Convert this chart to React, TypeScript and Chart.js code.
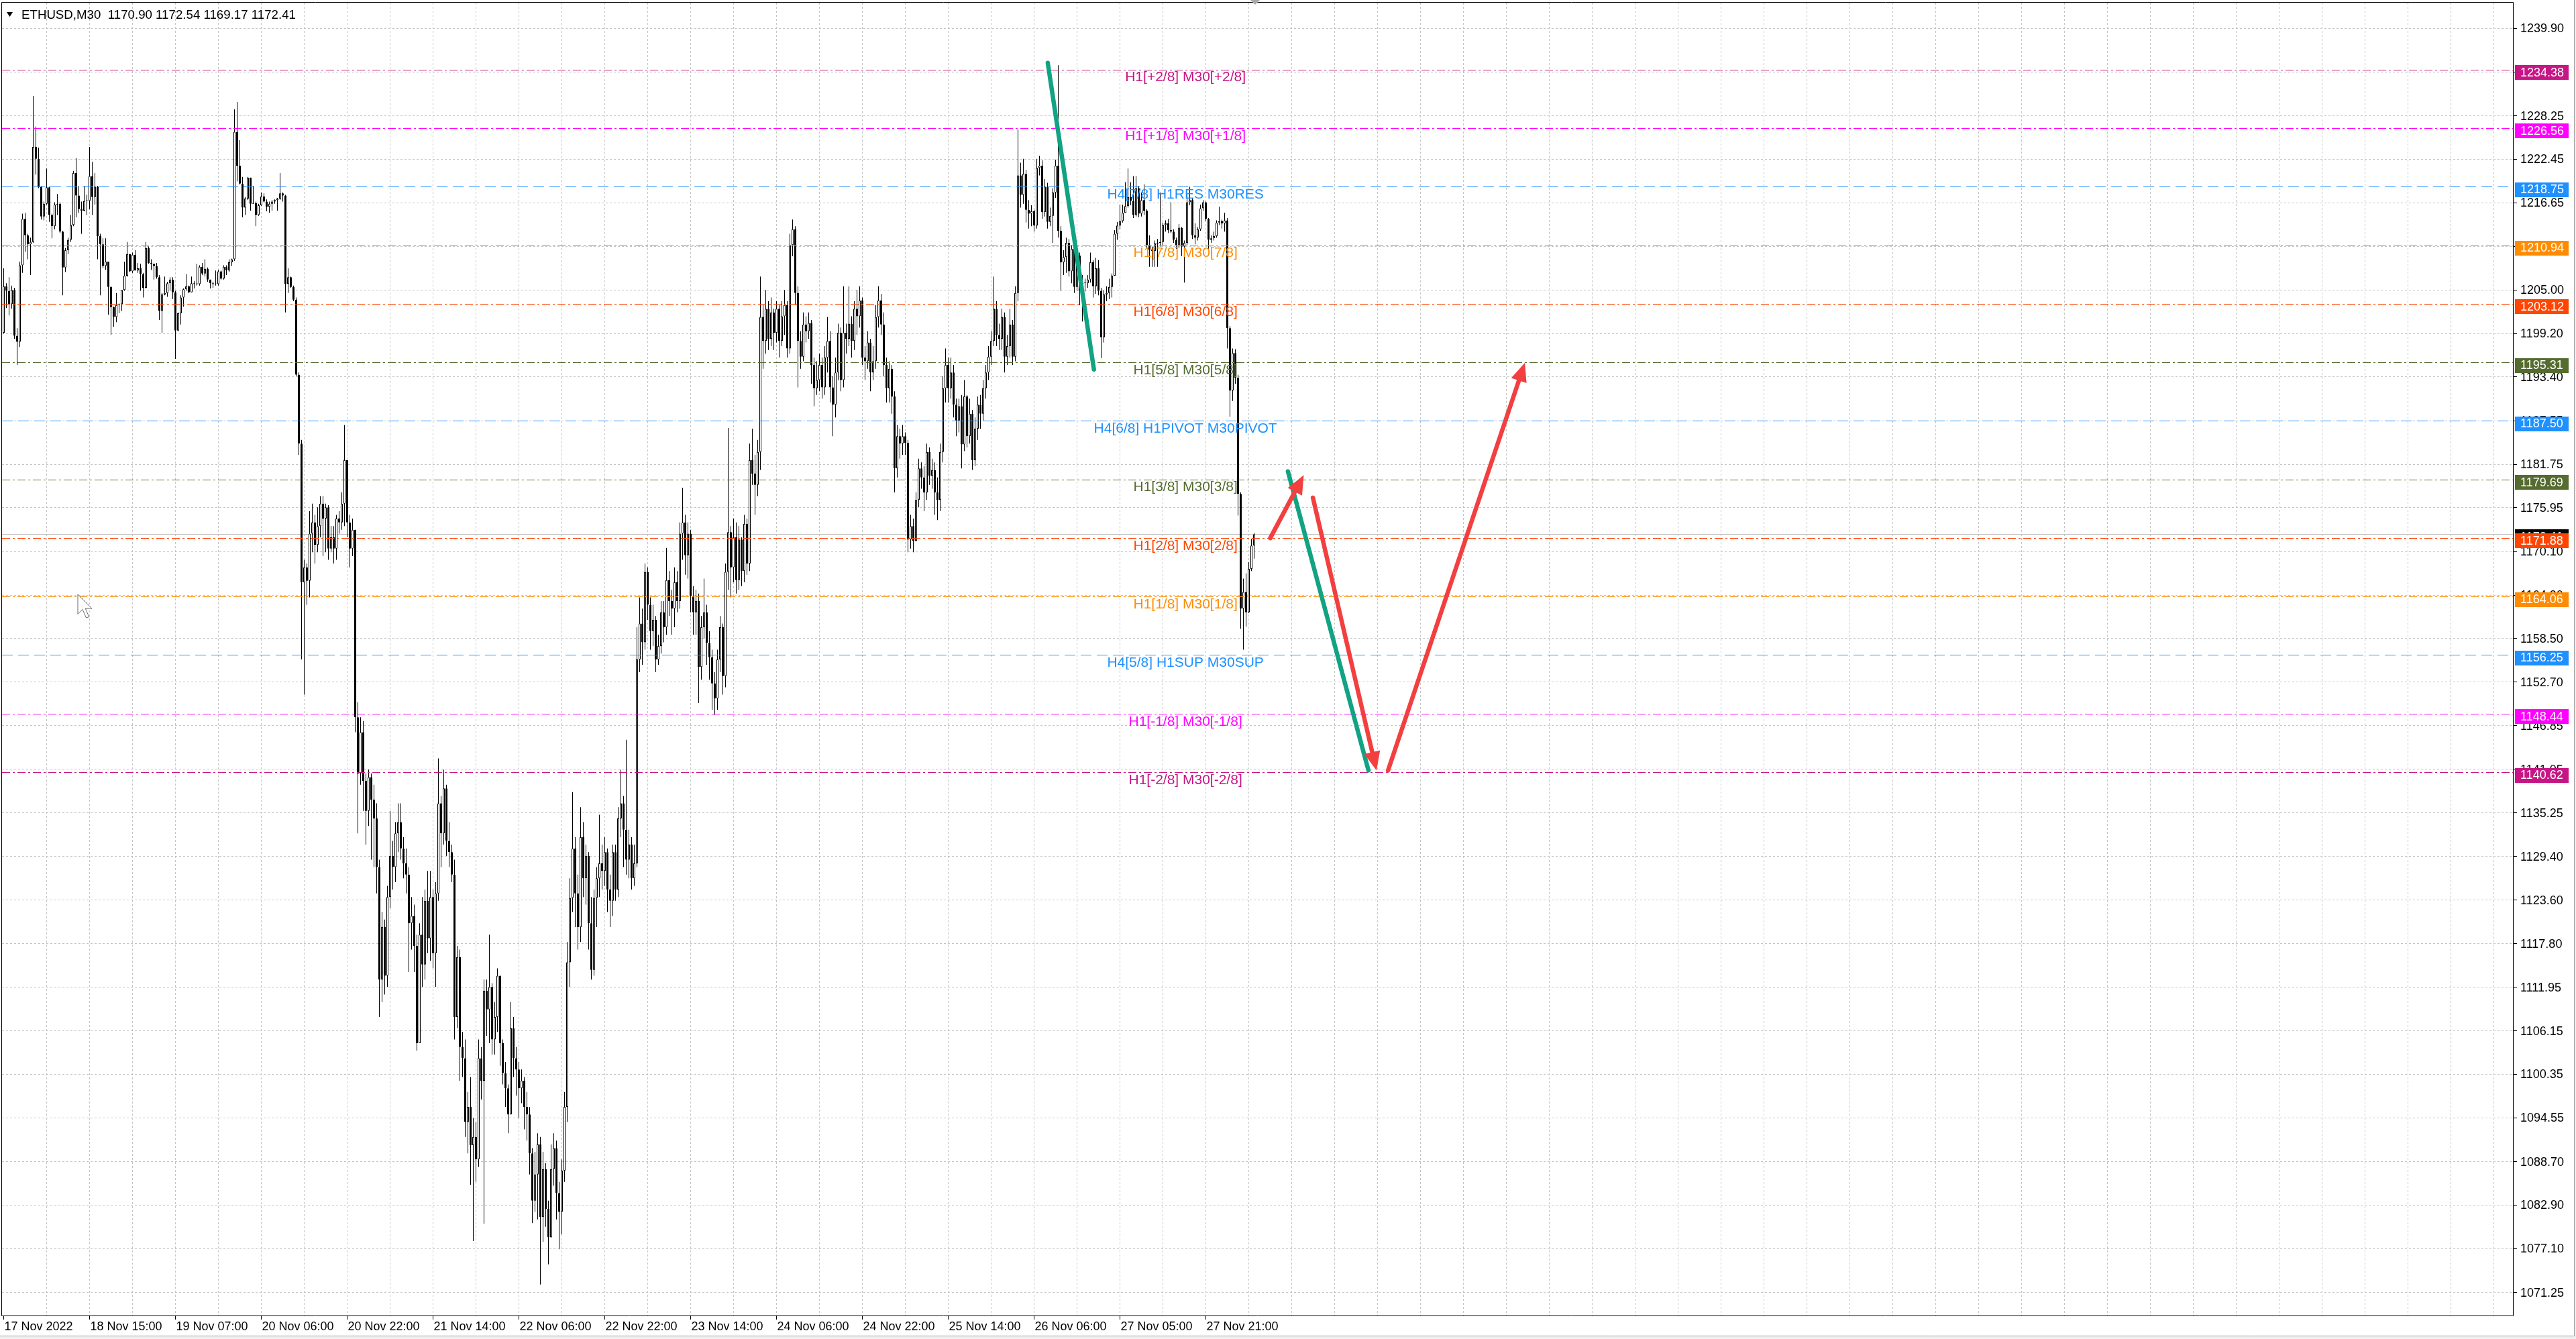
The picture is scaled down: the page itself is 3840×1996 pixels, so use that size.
import React, { useEffect, useRef } from "react";
import { Chart, registerables } from "chart.js";

Chart.register(...registerables);

const W = 3840;
const H = 1996;
const FONT = "'Liberation Sans', Arial, sans-serif";

// ---------- data ----------
const SYMBOL = "ETHUSD,M30";
const FIRST_OPEN = 1199.3;

const closes = [
  1205.5, 1204.9, 1203.1, 1205.0, 1198.9, 1198.1, 1208.3, 1214.5, 1212.3, 1211.1,
  1211.4, 1224.1, 1222.5, 1218.8, 1214.8, 1216.5, 1218.7, 1215.0, 1213.5, 1216.4,
  1216.5, 1212.8, 1208.0, 1210.3, 1211.7, 1213.7, 1220.6, 1217.6, 1215.8, 1215.6,
  1216.9, 1216.9, 1220.2, 1217.4, 1218.8, 1212.2, 1211.1, 1208.2, 1208.8, 1205.4,
  1202.7, 1201.4, 1203.0, 1203.1, 1205.0, 1206.9, 1209.8, 1207.5, 1209.7, 1207.6,
  1207.9, 1207.1, 1205.3, 1210.6, 1208.6, 1208.5, 1208.2, 1206.7, 1202.2, 1204.4,
  1204.6, 1205.9, 1206.4, 1204.7, 1199.6, 1201.9, 1204.0, 1205.1, 1205.5, 1204.7,
  1205.9, 1205.8, 1205.8, 1208.1, 1207.2, 1207.8, 1206.4, 1205.9, 1205.8, 1205.8,
  1207.5, 1206.5, 1208.1, 1207.6, 1208.7, 1209.1, 1226.1, 1221.6, 1219.2, 1216.0,
  1217.2, 1220.0, 1216.5, 1216.6, 1215.0, 1216.3, 1217.5, 1216.8, 1216.1, 1216.5,
  1216.8, 1217.0, 1217.2, 1217.9, 1217.6, 1205.8, 1206.7, 1205.4, 1203.7, 1193.7,
  1184.5, 1166.0, 1168.0, 1166.2, 1172.5, 1174.0, 1171.0, 1173.5, 1176.5, 1174.5,
  1176.0, 1170.5, 1172.0, 1170.5, 1174.5, 1174.0, 1176.5, 1182.3, 1174.0, 1170.5,
  1173.0, 1148.0, 1140.5, 1146.0, 1139.5, 1135.5, 1140.0, 1137.0, 1134.5, 1128.0,
  1113.0, 1120.0, 1113.5, 1124.0, 1129.5, 1128.0, 1132.5, 1134.0, 1130.5, 1128.5,
  1127.0, 1120.5, 1121.5, 1117.5, 1104.5, 1119.0, 1115.0, 1123.5, 1118.5, 1124.0,
  1116.5, 1124.5, 1136.5, 1132.5, 1138.5, 1131.5, 1130.0, 1127.0, 1108.0, 1116.0,
  1104.0, 1102.5, 1094.0, 1096.0, 1090.9, 1092.0, 1089.0, 1102.5, 1099.5, 1111.5,
  1109.0, 1112.0, 1105.0, 1108.0, 1113.5, 1104.5, 1100.5, 1098.5, 1095.0, 1106.5,
  1102.5, 1101.0, 1098.5, 1099.5, 1096.0, 1095.0, 1089.8, 1083.5, 1087.0, 1091.0,
  1081.3, 1087.7, 1082.4, 1078.6, 1087.7, 1090.5, 1084.5, 1082.0, 1087.5, 1096.0,
  1115.3, 1123.9, 1130.5, 1124.5, 1120.0, 1132.0, 1126.5, 1129.5, 1120.5, 1114.3,
  1123.9, 1126.5, 1128.5, 1127.5, 1130.0, 1125.0, 1123.5, 1130.0, 1125.0, 1134.5,
  1136.5, 1133.0, 1129.0, 1131.0, 1126.5, 1128.5, 1155.7, 1160.5, 1158.0, 1167.4,
  1163.0, 1159.5, 1161.0, 1155.7, 1157.5, 1162.0, 1160.0, 1166.3, 1163.5, 1162.5,
  1166.0, 1163.5, 1172.5, 1174.0, 1169.6, 1172.5, 1164.2, 1162.0, 1163.5, 1154.7,
  1160.0, 1162.0, 1157.9, 1156.0, 1152.5, 1150.5, 1155.7, 1160.0, 1153.5, 1167.4,
  1172.7, 1168.0, 1172.0, 1166.3, 1171.7, 1167.5, 1173.8, 1168.5, 1182.3, 1180.5,
  1179.0, 1183.4, 1201.4, 1198.2, 1202.5, 1198.5, 1202.0, 1199.3, 1202.5, 1198.2,
  1201.5, 1203.0, 1197.2, 1211.0, 1213.1, 1204.6, 1198.2, 1196.1, 1200.4, 1199.5,
  1200.6, 1195.0, 1191.9, 1193.0, 1195.0, 1192.0, 1196.0, 1198.2, 1192.0, 1189.7,
  1194.0, 1199.3, 1193.0, 1199.3, 1198.5, 1200.5, 1198.2, 1202.5, 1201.5, 1203.6,
  1196.0, 1195.5, 1198.0, 1194.0, 1195.5, 1201.4, 1203.6, 1200.4, 1195.0, 1191.9,
  1194.5, 1190.8, 1181.2, 1185.5, 1184.5, 1185.5, 1184.6, 1171.7, 1173.5, 1171.5,
  1177.0, 1181.2, 1180.0, 1178.0, 1183.4, 1180.2, 1181.0, 1178.0, 1177.0, 1183.4,
  1191.9, 1195.0, 1191.9, 1194.0, 1189.7, 1187.6, 1189.5, 1184.4, 1190.8, 1185.5,
  1188.5, 1182.3, 1186.5, 1189.7, 1188.5, 1191.9, 1194.0, 1196.1, 1198.2, 1202.5,
  1199.0, 1198.5, 1201.4, 1196.1, 1197.5, 1200.4, 1196.1, 1204.6, 1220.3, 1217.7,
  1220.5, 1215.7, 1215.2, 1215.5, 1213.6, 1221.3, 1221.6, 1215.4, 1218.8, 1214.1,
  1214.9, 1218.0, 1221.6, 1212.9, 1208.7, 1209.4, 1211.3, 1207.5, 1210.5, 1205.4,
  1209.6, 1204.9, 1206.0, 1205.9, 1206.4, 1208.7, 1205.5, 1207.9, 1204.9, 1198.7,
  1204.4, 1204.6, 1205.4, 1206.9, 1212.5, 1213.6, 1214.2, 1215.3, 1216.2, 1217.4,
  1216.9, 1215.0, 1218.6, 1215.2, 1217.0, 1215.6, 1211.0, 1210.4, 1210.2, 1211.2,
  1211.3, 1211.4, 1213.7, 1213.9, 1213.0, 1212.8, 1211.7, 1210.9, 1213.3, 1210.8,
  1211.3, 1216.7, 1217.0, 1212.3, 1212.0, 1213.1, 1215.9, 1216.7, 1214.5, 1211.7,
  1211.9, 1212.2, 1214.0, 1214.2, 1213.9, 1214.3, 1199.9, 1191.6, 1196.6, 1193.3,
  1177.8, 1162.5, 1164.7, 1162.0, 1167.8, 1170.9, 1172.41,
];

const highs = [
  1207.9, 1205.9, 1206.7, 1205.6, 1205.3, 1199.9, 1208.8, 1215.2, 1215.3, 1212.5,
  1212.0, 1230.9, 1226.8, 1224.0, 1218.9, 1216.8, 1221.2, 1218.8, 1215.2, 1216.7,
  1217.8, 1216.7, 1212.9, 1210.6, 1212.0, 1215.0, 1220.9, 1222.6, 1218.9, 1216.8,
  1218.9, 1217.7, 1224.1, 1222.1, 1220.6, 1218.9, 1212.5, 1211.9, 1211.9, 1208.8,
  1205.5, 1202.8, 1204.6, 1203.2, 1205.0, 1208.8, 1211.4, 1209.8, 1210.0, 1210.3,
  1208.6, 1208.5, 1207.3, 1211.4, 1210.8, 1209.1, 1208.5, 1208.6, 1207.0, 1204.6,
  1206.8, 1206.1, 1206.7, 1206.7, 1204.9, 1202.0, 1204.3, 1205.2, 1207.1, 1205.6,
  1206.8, 1206.2, 1208.5, 1208.3, 1208.6, 1209.1, 1208.0, 1206.4, 1206.1, 1207.6,
  1207.7, 1207.6, 1208.3, 1208.3, 1209.1, 1209.2, 1229.1, 1230.1, 1225.0, 1220.1,
  1217.4, 1220.1, 1217.4, 1218.9, 1216.8, 1216.5, 1218.0, 1217.9, 1217.1, 1216.8,
  1217.0, 1217.1, 1217.3, 1220.6, 1218.0, 1217.7, 1207.9, 1206.8, 1205.6, 1204.0,
  1194.0, 1185.0, 1169.0, 1168.5, 1175.5, 1176.5, 1175.0, 1176.0, 1177.5, 1177.5,
  1176.5, 1176.3, 1173.5, 1173.5, 1175.0, 1175.5, 1178.0, 1187.0, 1181.0, 1175.0,
  1174.5, 1173.0, 1150.0, 1148.0, 1147.5, 1140.5, 1141.0, 1140.5, 1139.0, 1136.5,
  1129.0, 1122.0, 1121.0, 1125.5, 1135.5, 1131.5, 1134.0, 1136.5, 1136.5, 1132.0,
  1130.5, 1128.0, 1124.0, 1123.0, 1119.0, 1120.5, 1124.0, 1125.0, 1127.5, 1127.5,
  1125.0, 1126.0, 1142.5, 1137.5, 1141.0, 1139.0, 1134.0, 1131.0, 1129.0, 1117.5,
  1117.0, 1106.0, 1105.0, 1098.0, 1100.0, 1094.5, 1094.0, 1105.0, 1104.0, 1113.0,
  1113.0, 1119.0, 1112.5, 1110.0, 1114.5, 1113.0, 1105.0, 1102.0, 1099.0, 1110.0,
  1108.0, 1104.0, 1102.0, 1101.0, 1100.0, 1098.0, 1096.0, 1090.5, 1090.0, 1092.5,
  1092.0, 1090.0, 1088.5, 1083.5, 1091.0, 1092.5, 1091.5, 1086.0, 1089.0, 1098.0,
  1118.0, 1126.5, 1138.0, 1132.0, 1127.0, 1136.0, 1134.0, 1131.0, 1130.0, 1124.0,
  1125.0, 1128.0, 1135.0, 1131.0, 1132.0, 1130.5, 1127.0, 1131.0, 1131.0, 1136.0,
  1141.0, 1137.5, 1145.0, 1133.0, 1132.0, 1131.0, 1160.0, 1164.0, 1162.5, 1168.5,
  1168.0, 1164.0, 1163.0, 1161.5, 1159.0, 1163.5, 1163.5, 1170.6, 1167.5, 1165.0,
  1168.0, 1167.5, 1174.0, 1178.6, 1175.0, 1174.0, 1173.0, 1165.5, 1165.0, 1164.5,
  1161.5, 1166.5, 1163.0, 1159.5, 1157.0, 1154.0, 1157.0, 1161.5, 1160.5, 1168.5,
  1186.6, 1173.5, 1174.5, 1174.0, 1173.5, 1172.0, 1175.0, 1174.5, 1184.5, 1186.5,
  1183.0, 1185.0, 1206.8, 1203.0, 1205.0, 1203.5, 1204.0, 1202.5, 1203.5, 1203.0,
  1203.5, 1205.0, 1203.5, 1212.5, 1214.4, 1213.5, 1205.5, 1199.5, 1202.0, 1201.5,
  1202.0, 1201.0, 1196.0, 1195.5, 1196.5, 1196.0, 1197.5, 1201.4, 1199.5, 1193.5,
  1196.0, 1200.5, 1200.0, 1205.5, 1200.5, 1205.5, 1201.5, 1203.5, 1205.0, 1205.5,
  1204.0, 1197.5, 1199.5, 1198.5, 1197.5, 1203.0, 1205.5, 1204.5, 1202.0, 1196.0,
  1195.5, 1195.0, 1191.5, 1187.0, 1186.5, 1187.0, 1186.0, 1185.0, 1175.0, 1174.5,
  1178.0, 1182.5, 1182.0, 1181.5, 1184.5, 1184.0, 1182.5, 1182.0, 1180.0, 1184.5,
  1193.5, 1197.2, 1196.0, 1196.0, 1195.0, 1190.5, 1190.5, 1191.0, 1193.0, 1191.0,
  1190.5, 1189.0, 1188.0, 1190.8, 1191.0, 1193.0, 1195.0, 1197.5, 1199.5, 1206.8,
  1203.5, 1200.5, 1202.5, 1202.0, 1199.0, 1202.5, 1201.0, 1205.5, 1226.4, 1222.0,
  1222.5, 1221.0, 1217.0, 1216.3, 1215.7, 1222.5, 1222.9, 1222.3, 1219.8, 1219.3,
  1216.0, 1218.6, 1222.4, 1235.0, 1213.5, 1210.3, 1212.0, 1211.8, 1211.0, 1210.7,
  1211.0, 1210.0, 1207.0, 1206.5, 1207.0, 1210.0, 1209.0, 1209.3, 1209.0, 1205.3,
  1205.0, 1205.5, 1206.5, 1207.2, 1213.0, 1214.1, 1216.4, 1216.4, 1219.4, 1221.2,
  1219.4, 1220.2, 1220.2, 1218.9, 1218.0, 1219.1, 1215.8, 1212.3, 1210.8, 1211.6,
  1211.8, 1218.0, 1214.0, 1214.3, 1214.5, 1216.7, 1213.1, 1212.0, 1213.8, 1213.4,
  1211.6, 1217.7, 1218.8, 1217.2, 1213.9, 1213.4, 1216.4, 1217.0, 1216.8, 1214.6,
  1212.3, 1212.8, 1214.3, 1216.1, 1214.4, 1215.3, 1214.6, 1200.2, 1197.2, 1197.1,
  1193.7, 1178.0, 1166.5, 1167.2, 1168.7, 1171.8, 1172.54,
];

const lows = [
  1199.2, 1202.6, 1201.6, 1202.5, 1198.5, 1195.0, 1197.4, 1207.3, 1210.1, 1209.1,
  1207.0, 1211.3, 1220.4, 1218.6, 1214.4, 1214.3, 1216.4, 1214.1, 1211.9, 1213.1,
  1215.0, 1212.6, 1204.3, 1207.4, 1209.8, 1211.4, 1213.5, 1214.7, 1215.3, 1212.5,
  1215.5, 1215.0, 1215.8, 1215.0, 1216.4, 1209.1, 1204.3, 1207.9, 1207.7, 1201.7,
  1199.0, 1200.1, 1200.7, 1201.9, 1202.2, 1204.9, 1206.8, 1207.4, 1207.3, 1207.6,
  1207.3, 1204.9, 1204.0, 1205.2, 1208.5, 1207.7, 1206.4, 1206.5, 1201.0, 1199.3,
  1204.3, 1204.1, 1204.9, 1203.8, 1195.8, 1199.5, 1200.4, 1202.8, 1204.9, 1204.6,
  1204.9, 1205.2, 1205.6, 1205.6, 1207.0, 1206.8, 1206.1, 1205.2, 1205.3, 1205.6,
  1205.6, 1206.4, 1206.4, 1207.0, 1207.4, 1208.2, 1208.9, 1219.5, 1219.1, 1214.7,
  1215.0, 1217.0, 1215.6, 1216.5, 1213.5, 1214.9, 1216.2, 1216.7, 1215.5, 1215.3,
  1215.6, 1216.5, 1215.6, 1217.0, 1216.8, 1202.0, 1204.6, 1205.3, 1203.5, 1193.5,
  1183.0, 1155.7, 1151.0, 1163.0, 1164.0, 1170.0, 1168.5, 1170.0, 1172.0, 1169.5,
  1170.0, 1169.0, 1170.0, 1168.5, 1169.0, 1172.5, 1173.0, 1173.5, 1172.0, 1168.0,
  1169.5, 1146.0, 1132.5, 1139.0, 1135.5, 1131.0, 1133.5, 1129.0, 1128.0, 1124.5,
  1108.0, 1110.0, 1111.0, 1112.0, 1122.5, 1125.0, 1126.0, 1130.0, 1129.0, 1126.5,
  1124.5, 1114.0, 1117.0, 1114.0, 1103.5, 1104.5, 1112.0, 1113.0, 1116.5, 1115.5,
  1114.5, 1112.0, 1123.5, 1128.0, 1131.0, 1129.5, 1128.0, 1126.0, 1105.0, 1106.5,
  1099.5, 1100.0, 1092.0, 1089.8, 1085.6, 1078.1, 1086.0, 1088.0, 1097.0, 1080.4,
  1105.5, 1104.5, 1103.0, 1103.0, 1106.0, 1101.5, 1099.0, 1096.0, 1092.5, 1095.0,
  1100.0, 1097.5, 1094.5, 1096.5, 1093.0, 1091.5, 1087.0, 1080.5, 1082.0, 1081.0,
  1072.3, 1078.0, 1080.0, 1075.0, 1079.0, 1085.5, 1081.0, 1077.0, 1079.0, 1086.0,
  1094.0, 1112.0, 1122.0, 1120.0, 1117.0, 1118.0, 1124.0, 1123.0, 1117.0, 1113.0,
  1113.5, 1120.0, 1124.0, 1125.0, 1125.5, 1122.0, 1120.0, 1121.5, 1123.5, 1124.0,
  1132.0, 1128.0, 1127.0, 1126.5, 1125.0, 1125.5, 1128.0, 1154.0, 1155.0, 1157.0,
  1161.0, 1157.0, 1157.5, 1154.0, 1155.0, 1156.5, 1158.0, 1159.0, 1161.5, 1159.0,
  1160.0, 1162.0, 1162.5, 1169.0, 1167.0, 1166.5, 1162.0, 1159.0, 1159.0, 1149.9,
  1153.0, 1158.5, 1155.0, 1153.0, 1149.0, 1148.3, 1149.0, 1154.0, 1151.0, 1152.0,
  1165.0, 1164.0, 1166.0, 1164.5, 1165.0, 1165.5, 1166.0, 1167.0, 1167.5, 1179.0,
  1175.0, 1177.5, 1181.0, 1194.5, 1196.5, 1197.0, 1197.5, 1197.0, 1198.0, 1196.0,
  1197.5, 1199.0, 1196.0, 1196.5, 1209.5, 1203.0, 1192.0, 1194.5, 1195.5, 1198.0,
  1198.5, 1192.5, 1189.5, 1191.0, 1191.5, 1190.5, 1191.0, 1194.0, 1190.0, 1185.5,
  1188.0, 1193.0, 1191.5, 1192.0, 1196.5, 1197.5, 1196.0, 1197.0, 1199.0, 1200.0,
  1195.0, 1193.0, 1194.5, 1191.5, 1193.0, 1194.5, 1200.0, 1199.0, 1193.5, 1190.0,
  1190.0, 1188.5, 1178.0, 1180.0, 1182.5, 1183.0, 1183.0, 1170.0, 1170.5, 1170.0,
  1171.5, 1176.0, 1178.5, 1175.5, 1177.0, 1179.0, 1178.5, 1175.0, 1174.3, 1175.5,
  1182.0, 1190.0, 1190.0, 1190.5, 1188.0, 1185.5, 1186.0, 1181.2, 1183.5, 1184.0,
  1184.5, 1181.0, 1181.5, 1185.0, 1186.5, 1187.5, 1190.5, 1193.0, 1195.0, 1197.5,
  1197.5, 1197.0, 1197.0, 1194.0, 1195.0, 1196.0, 1195.0, 1195.5, 1203.5, 1216.0,
  1216.5, 1214.0, 1213.2, 1213.5, 1212.8, 1213.2, 1220.3, 1214.5, 1214.8, 1213.2,
  1213.5, 1211.3, 1217.3, 1212.0, 1204.9, 1207.0, 1207.3, 1206.8, 1205.9, 1204.6,
  1204.9, 1203.0, 1200.8, 1204.8, 1205.3, 1206.0, 1204.0, 1204.5, 1204.3, 1195.9,
  1198.0, 1203.5, 1203.8, 1204.0, 1209.5, 1211.7, 1213.1, 1214.0, 1215.3, 1216.0,
  1216.3, 1214.6, 1214.8, 1214.7, 1214.8, 1215.0, 1210.6, 1208.1, 1208.1, 1208.1,
  1208.1, 1210.8, 1210.9, 1212.8, 1212.6, 1212.6, 1211.3, 1210.5, 1210.6, 1209.5,
  1206.0, 1211.0, 1216.3, 1211.8, 1211.1, 1211.6, 1212.9, 1215.6, 1214.2, 1210.4,
  1211.3, 1211.6, 1212.0, 1213.7, 1213.2, 1212.8, 1197.2, 1188.1, 1190.2, 1192.5,
  1174.9, 1159.8, 1157.0, 1160.1, 1161.9, 1167.5, 1169.17,
];

const timeLabels = [
  "17 Nov 2022", "18 Nov 15:00", "19 Nov 07:00", "20 Nov 06:00", "20 Nov 22:00",
  "21 Nov 14:00", "22 Nov 06:00", "22 Nov 22:00", "23 Nov 14:00", "24 Nov 06:00",
  "24 Nov 22:00", "25 Nov 14:00", "26 Nov 06:00", "27 Nov 05:00", "27 Nov 21:00",
];
const LABEL_EVERY = 32;
const GRID_EVERY = 16;

const priceTicks = [
  1239.9, 1234.1, 1228.25, 1222.45, 1216.65, 1210.8, 1205.0, 1199.2, 1193.4, 1187.55,
  1181.75, 1175.95, 1170.1, 1164.3, 1158.5, 1152.7, 1146.85, 1141.05, 1135.25, 1129.4,
  1123.6, 1117.8, 1111.95, 1106.15, 1100.35, 1094.55, 1088.7, 1082.9, 1077.1, 1071.25,
];

const levelPrices = [
  1234.38, 1226.56, 1218.75, 1210.94, 1203.12, 1195.31, 1187.5,
  1179.69, 1171.88, 1164.06, 1156.25, 1148.44, 1140.62,
];
const levelTexts = [
  "H1[+2/8] M30[+2/8]", "H1[+1/8] M30[+1/8]", "H4[7/8] H1RES M30RES",
  "H1[7/8] M30[7/8]", "H1[6/8] M30[6/8]", "H1[5/8] M30[5/8]",
  "H4[6/8] H1PIVOT M30PIVOT", "H1[3/8] M30[3/8]", "H1[2/8] M30[2/8]",
  "H1[1/8] M30[1/8]", "H4[5/8] H1SUP M30SUP", "H1[-1/8] M30[-1/8]", "H1[-2/8] M30[-2/8]",
];
const levelColors = [
  "#C71585", "#FF00FF", "#1E90FF", "#FF8C00", "#FF4500", "#556B2F", "#1E90FF",
  "#556B2F", "#FF4500", "#FF8C00", "#1E90FF", "#FF00FF", "#C71585",
];
const levelIsDash = [
  false, false, true, false, false, false, true, false, false, false, true, false, false,
];
const LEVEL_TEXT_BAR = 440.4;

// drawn objects [barFrom, priceFrom, barTo, priceTo]
const greenLines = [
  [389.1, 1235.3, 406.3, 1194.4],
  [478.6, 1180.8, 508.6, 1140.9],
];
const redArrows = [
  [472.0, 1171.9, 484.5, 1180.3],
  [487.9, 1177.3, 511.6, 1140.9],
  [515.9, 1140.9, 566.9, 1195.3],
];

// ---------- layout ----------
const PL = 3;
const PT = 4;
const PR = 3746;
const PB = 1961;
const X_MIN = -0.625;
const X_MAX = X_MIN + (PR - PL) / 4;
const Y_MAX = 1243.34;
const Y_MIN = 1068.17;

const opens = closes.map((c, i) => (i === 0 ? FIRST_OPEN : closes[i - 1]));

function drawArrow(ctx, x1, y1, x2, y2, color, head) {
  const ang = Math.atan2(y2 - y1, x2 - x1);
  const hl = 28;
  const hw = 12;
  const cos = Math.cos(ang);
  const sin = Math.sin(ang);
  ctx.save();
  ctx.strokeStyle = color;
  ctx.fillStyle = color;
  ctx.lineWidth = head ? 6.5 : 6.5;
  ctx.lineCap = "round";
  ctx.setLineDash([]);
  const ex = head ? x2 - hl * 0.7 * cos : x2;
  const ey = head ? y2 - hl * 0.7 * sin : y2;
  ctx.beginPath();
  ctx.moveTo(x1, y1);
  ctx.lineTo(ex, ey);
  ctx.stroke();
  if (head) {
    ctx.beginPath();
    ctx.moveTo(x2, y2);
    ctx.lineTo(x2 - hl * cos + hw * sin, y2 - hl * sin - hw * cos);
    ctx.lineTo(x2 - hl * cos - hw * sin, y2 - hl * sin + hw * cos);
    ctx.closePath();
    ctx.fill();
  }
  ctx.restore();
}

const mt4Plugin = {
  id: "mt4",
  beforeDraw(chart) {
    const ctx = chart.ctx;
    ctx.save();
    ctx.fillStyle = "#ffffff";
    ctx.fillRect(0, 0, W, H);
    ctx.restore();
  },
  beforeDatasetsDraw(chart) {
    const ctx = chart.ctx;
    const xs = chart.scales.x;
    const ys = chart.scales.y;
    ctx.save();
    ctx.strokeStyle = "#c4c4c4";
    ctx.lineWidth = 1;
    ctx.setLineDash([3, 3]);
    priceTicks.forEach((p) => {
      const y = Math.floor(ys.getPixelForValue(p)) + 0.5;
      ctx.beginPath();
      ctx.moveTo(PL, y);
      ctx.lineTo(PR, y);
      ctx.stroke();
    });
    for (let i = GRID_EVERY; ; i += GRID_EVERY) {
      const x = Math.floor(xs.getPixelForValue(i)) + 0.5;
      if (x >= PR) break;
      ctx.beginPath();
      ctx.moveTo(x, PT);
      ctx.lineTo(x, PB);
      ctx.stroke();
    }
    // current price line
    ctx.setLineDash([]);
    ctx.strokeStyle = "#c0c0c0";
    const last = closes[closes.length - 1];
    const yc = Math.floor(ys.getPixelForValue(last)) + 0.5;
    ctx.beginPath();
    ctx.moveTo(PL, yc);
    ctx.lineTo(PR, yc);
    ctx.stroke();
    ctx.restore();
  },
  afterDatasetsDraw(chart) {
    const ctx = chart.ctx;
    const xs = chart.scales.x;
    const ys = chart.scales.y;
    ctx.save();

    // level lines
    levelPrices.forEach((p, k) => {
      const y = Math.floor(ys.getPixelForValue(p)) + 0.5;
      ctx.strokeStyle = levelColors[k];
      ctx.lineWidth = 1;
      ctx.setLineDash(levelIsDash[k] ? [16, 8] : [12, 4, 3, 4]);
      ctx.beginPath();
      ctx.moveTo(PL, y);
      ctx.lineTo(PR, y);
      ctx.stroke();
    });
    ctx.setLineDash([]);

    // level texts
    ctx.font = `21px ${FONT}`;
    ctx.textAlign = "center";
    ctx.textBaseline = "middle";
    const tx = xs.getPixelForValue(LEVEL_TEXT_BAR);
    levelPrices.forEach((p, k) => {
      ctx.fillStyle = levelColors[k];
      ctx.fillText(levelTexts[k], tx, ys.getPixelForValue(p) + 11.5);
    });

    // drawings
    ctx.beginPath();
    ctx.rect(PL, PT, PR - PL, PB - PT);
    ctx.clip();
    greenLines.forEach((l) => {
      drawArrow(ctx, xs.getPixelForValue(l[0]), ys.getPixelForValue(l[1]), xs.getPixelForValue(l[2]), ys.getPixelForValue(l[3]), "#11A383", false);
    });
    redArrows.forEach((l) => {
      drawArrow(ctx, xs.getPixelForValue(l[0]), ys.getPixelForValue(l[1]), xs.getPixelForValue(l[2]), ys.getPixelForValue(l[3]), "#F23F3F", true);
    });

    // mouse cursor
    const cx = 116;
    const cy = 886;
    const s = 1.4;
    const pts = [[0, 0], [0, 21], [5, 16], [9, 25], [12, 24], [8, 15], [15, 15]];
    ctx.beginPath();
    pts.forEach((pt, i) => {
      const px = cx + pt[0] * s;
      const py = cy + pt[1] * s;
      if (i === 0) ctx.moveTo(px, py);
      else ctx.lineTo(px, py);
    });
    ctx.closePath();
    ctx.fillStyle = "#ffffff";
    ctx.fill();
    ctx.strokeStyle = "#6a6a6a";
    ctx.lineWidth = 1;
    ctx.stroke();
    ctx.restore();
  },
  afterDraw(chart) {
    const ctx = chart.ctx;
    const xs = chart.scales.x;
    const ys = chart.scales.y;
    ctx.save();

    // outer window border
    ctx.fillStyle = "#f0f0f0";
    ctx.fillRect(0, 1992, W, H - 1992);
    ctx.fillRect(3838, 0, W - 3838, H);
    ctx.strokeStyle = "#a0a0a0";
    ctx.lineWidth = 1;
    ctx.beginPath();
    ctx.moveTo(0, 1991.5);
    ctx.lineTo(3838, 1991.5);
    ctx.moveTo(3837.5, 0);
    ctx.lineTo(3837.5, 1992);
    ctx.stroke();

    // frame
    ctx.strokeStyle = "#000000";
    ctx.beginPath();
    ctx.moveTo(PL - 0.5, PT - 0.5);
    ctx.lineTo(PR + 0.5, PT - 0.5);
    ctx.moveTo(PL - 0.5, PT - 0.5);
    ctx.lineTo(PL - 0.5, PB + 0.5);
    ctx.moveTo(PR + 0.5, PT - 0.5);
    ctx.lineTo(PR + 0.5, PB + 0.5);
    ctx.moveTo(PL - 0.5, PB + 0.5);
    ctx.lineTo(PR + 0.5, PB + 0.5);
    ctx.stroke();

    // shift marker
    ctx.fillStyle = "#a8a8a8";
    ctx.beginPath();
    ctx.moveTo(1864, 0);
    ctx.lineTo(1878, 0);
    ctx.lineTo(1871, 7);
    ctx.closePath();
    ctx.fill();

    // price axis
    ctx.font = `18px ${FONT}`;
    ctx.textAlign = "left";
    ctx.textBaseline = "middle";
    ctx.fillStyle = "#000000";
    priceTicks.forEach((p) => {
      const y = ys.getPixelForValue(p);
      const yy = Math.floor(y) + 0.5;
      ctx.beginPath();
      ctx.moveTo(PR + 1, yy);
      ctx.lineTo(PR + 6, yy);
      ctx.stroke();
      ctx.fillText(p.toFixed(2), 3757, y + 1);
    });

    const drawBox = (p, bg, text) => {
      const y = ys.getPixelForValue(p);
      ctx.fillStyle = bg;
      ctx.fillRect(3749, Math.round(y - 7), 80, 22);
      ctx.fillStyle = "#ffffff";
      ctx.fillText(text, 3757, y + 4.5);
    };
    const lastClose = closes[closes.length - 1];
    drawBox(lastClose, "#000000", lastClose.toFixed(2));
    levelPrices.forEach((p, k) => drawBox(p, levelColors[k], p.toFixed(2)));

    // time axis
    ctx.fillStyle = "#000000";
    timeLabels.forEach((t, k) => {
      const i = k * LABEL_EVERY;
      const x = Math.floor(xs.getPixelForValue(i)) + 0.5;
      ctx.beginPath();
      ctx.moveTo(x, PB + 1);
      ctx.lineTo(x, PB + 6);
      ctx.stroke();
      ctx.fillText(t, Math.max(x + 1, 5), 1978);
    });

    // header
    const n = closes.length - 1;
    ctx.beginPath();
    ctx.moveTo(10, 18);
    ctx.lineTo(19, 18);
    ctx.lineTo(14.5, 25);
    ctx.closePath();
    ctx.fill();
    ctx.font = `18.7px ${FONT}`;
    const header = `${SYMBOL}  ${opens[n].toFixed(2)} ${highs[n].toFixed(2)} ${lows[n].toFixed(2)} ${closes[n].toFixed(2)}`;
    ctx.fillText(header, 32, 23);
    ctx.restore();
  },
};

export default function App() {
  const ref = useRef(null);
  useEffect(() => {
    const canvas = ref.current;
    const bodies = closes.map((c, i) => ({
      x: i,
      y: [Math.min(opens[i], c), Math.max(opens[i], c)],
    }));
    const wicks = closes.map((c, i) => ({
      x: i,
      y: [Math.min(lows[i], opens[i], c), Math.max(highs[i], opens[i], c)],
    }));
    const chart = new Chart(canvas, {
      type: "bar",
      data: {
        datasets: [
          {
            data: bodies,
            order: 0,
            grouped: false,
            barThickness: 3,
            maxBarThickness: 3,
            minBarLength: 1,
            inflateAmount: 0,
            borderSkipped: false,
            borderWidth: 1,
            borderColor: "#000000",
            backgroundColor: (c) => {
              const i = c.dataIndex;
              return closes[i] >= opens[i] ? "#ffffff" : "#000000";
            },
          },
          {
            data: wicks,
            order: 1,
            grouped: false,
            barThickness: 1,
            maxBarThickness: 1,
            minBarLength: 1,
            inflateAmount: 0,
            borderWidth: 0,
            backgroundColor: "#000000",
          },
        ],
      },
      options: {
        animation: false,
        responsive: false,
        devicePixelRatio: 1,
        events: [],
        layout: { padding: { left: PL, top: PT, right: W - PR, bottom: H - PB } },
        plugins: { legend: { display: false }, tooltip: { enabled: false }, title: { display: false } },
        scales: {
          x: { type: "linear", min: X_MIN, max: X_MAX, display: false, offset: false, grid: { display: false } },
          y: { type: "linear", min: Y_MIN, max: Y_MAX, display: false, beginAtZero: false, grid: { display: false } },
        },
      },
      plugins: [mt4Plugin],
    });
    return () => chart.destroy();
  }, []);

  return (
    <div style={{ position: "fixed", left: 0, top: 0, width: W, height: H, overflow: "hidden", background: "#fff" }}>
      <canvas ref={ref} width={W} height={H} style={{ display: "block", width: W, height: H }} />
    </div>
  );
}
